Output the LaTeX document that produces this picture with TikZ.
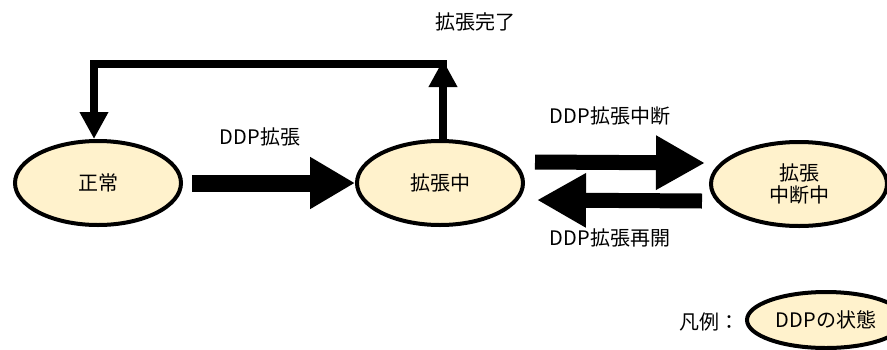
\documentclass[tikz,border=0pt]{standalone}
\usepackage{fontspec}
\newfontfamily\jp{Noto Sans CJK JP}
\usetikzlibrary{arrows.meta,shapes.geometric,calc}
\definecolor{cream}{HTML}{FFF2CC}
\begin{document}
\begin{tikzpicture}[x=1pt,y=-1pt,
  state/.style={ellipse,draw=black,line width=4pt,fill=cream,minimum width=166pt,minimum height=84pt,inner sep=0pt,font=\jp\fontsize{20}{22}\selectfont,align=center},
  lbl/.style={font=\jp\fontsize{20}{22}\selectfont,inner sep=0pt},
  bigarrow/.style={line width=17pt,-{Triangle[length=45pt 0 0,width=49pt 0 0]}},
  midarrow/.style={line width=15pt,-{Triangle[length=49pt 0 0,width=51pt 0 0]}},
  looparrow/.style={line width=8pt,-{Triangle[length=27pt 0 0,width=27pt 0 0]}}]
\useasboundingbox (0,0) rectangle (887,349);
% states
\node[state] (n1) at (98,183) {正常};
\node[state] (n2) at (440,183) {拡張中};
\node[state,minimum width=176pt] (n3) at (799,184) {拡張\\中断中};
% legend
\node[state,minimum width=158pt,minimum height=56pt] (lg) at (826,320) {DDPの状態};
\node[lbl] (lgl) at (709,322) {凡例：};
% labels
\node[lbl] (t1) at (475,22) {拡張完了};
\node[lbl] (t2) at (260,137) {DDP拡張};
\node[lbl] (t3) at (610,116) {DDP拡張中断};
\node[lbl] (t4) at (610,238) {DDP拡張再開};
% arrows
\draw[bigarrow] ($(n1.east)+(9,0)$) -- (n2.west);
\draw[midarrow] ($(n2.east)+(10,-21)$) -- ($(n3.west)+(-4,-21)$);
\draw[midarrow] ($(n3.west)+(-7,17)$) -- ($(n2.east)+(12,17)$);
% loop
\coordinate (c1) at (443,60);
\coordinate (c2) at (447,64);
\draw[looparrow] (n2.north -| c1) -- (c1);
\draw[looparrow] (c2) -| ($(n1.north)+(-4,0)$);
\end{tikzpicture}
\end{document}
